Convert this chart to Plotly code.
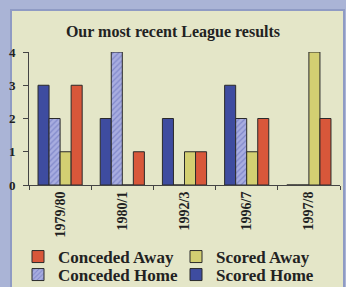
import plotly.graph_objects as go

seasons = ["1979/80", "1980/1", "1992/3", "1996/7", "1997/8"]
scored_home = [3, 2, 2, 3, 0]
conceded_home = [2, 4, 0, 2, 0]
scored_away = [1, 0, 1, 1, 4]
conceded_away = [3, 1, 1, 2, 2]
y_ticks = [0, 1, 2, 3, 4]

BG = "#e4e6c8"
STRIP = "#aab4d6"
OUTLINE = "#2a2a2a"
FONT = "Liberation Serif"

fig = go.Figure()
fig.add_trace(go.Bar(name="Scored Home", x=seasons, y=scored_home,
                     legend="legend2", legendrank=2,
                     marker=dict(color="#3e4ca0", line=dict(color=OUTLINE, width=1))))
fig.add_trace(go.Bar(name="Conceded Home", x=seasons, y=conceded_home,
                     legend="legend2", legendrank=1,
                     marker=dict(color="#a3a8dc", line=dict(color=OUTLINE, width=1),
                                 pattern=dict(shape="/", fgcolor="#5a64b4", bgcolor="#a8ade0",
                                              size=4, solidity=0.3))))
fig.add_trace(go.Bar(name="Scored Away", x=seasons, y=scored_away,
                     legend="legend", legendrank=2,
                     marker=dict(color="#d3cf72", line=dict(color=OUTLINE, width=1))))
fig.add_trace(go.Bar(name="Conceded Away", x=seasons, y=conceded_away,
                     legend="legend", legendrank=1,
                     marker=dict(color="#d8573a", line=dict(color=OUTLINE, width=1))))

# paper coords: x 0->px29, 1->px340; y 0->px185, 1->px52
def px_x(p):
    return (p - 29) / 311.0

def px_y(p):
    return (185 - p) / 133.0

fig.add_shape(type="rect", xref="paper", yref="paper", layer="below",
              x0=px_x(11), x1=px_x(344), y0=px_y(290), y1=px_y(10),
              fillcolor=BG, line=dict(color="#8f9bc4", width=2))

legend_common = dict(orientation="h", xanchor="left", yanchor="middle",
                     entrywidth=113, entrywidthmode="pixels", bgcolor="rgba(0,0,0,0)",
                     font=dict(family=FONT, size=17, color="#222", weight="bold"),
                     traceorder="normal", itemwidth=30)

fig.update_layout(
    width=346, height=287,
    margin=dict(l=29, r=6, t=52, b=102, autoexpand=False),
    paper_bgcolor=STRIP,
    plot_bgcolor="rgba(0,0,0,0)",
    barmode="group",
    bargap=0.29,
    bargroupgap=0,
    showlegend=True,
    title=dict(text="Our most recent League results", x=0.5, xanchor="center",
               y=1 - 31 / 287, yanchor="middle",
               font=dict(family=FONT, size=16, color="#222", weight="bold")),
    font=dict(family=FONT, color="#222"),
    legend=dict(x=px_x(18), y=px_y(257), **legend_common),
    legend2=dict(x=px_x(18), y=px_y(275), **legend_common),
    xaxis=dict(type="category", range=[-0.5, 4.5], showgrid=False, showline=True,
               linecolor="#444", linewidth=1, ticks="outside", ticklen=4,
               tickcolor="#444", tickson="boundaries", tickangle=-90,
               tickfont=dict(family=FONT, size=14, color="#222", weight="bold")),
    yaxis=dict(range=[0, 4], tickvals=y_ticks, showgrid=False, showline=True,
               linecolor="#444", linewidth=1, ticks="outside", ticklen=5,
               tickcolor="#444", zeroline=False, ticklabelstandoff=5,
               tickfont=dict(family=FONT, size=13, color="#222", weight="bold")),
)

fig.write_html("out.html", config={"displayModeBar": False},
               post_script="document.body.style.margin='0px';")
